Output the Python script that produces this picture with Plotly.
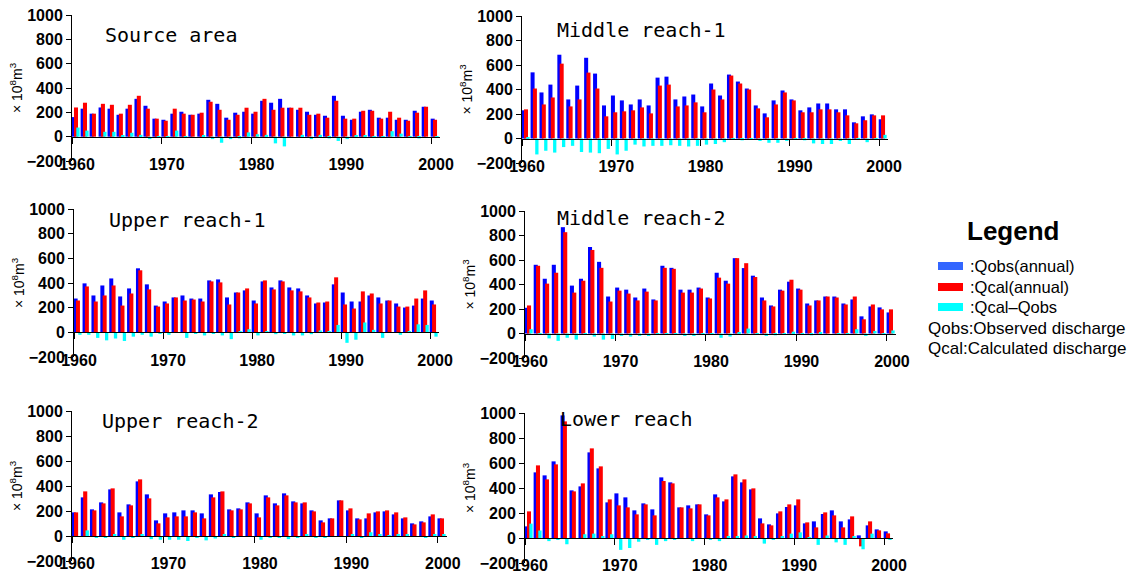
import plotly.graph_objects as go

years = list(range(1960, 2001))

panel_names = ["Source area", "Middle reach-1", "Upper reach-1",
               "Middle reach-2", "Upper reach-2", "Lower reach"]

# ---- data (x10^8 m3) ----
src_obs = [161, 230, 189, 240, 230, 180, 230, 311, 254, 148, 139, 189, 205, 180, 189, 303, 270, 156, 197, 205,
           189, 295, 279, 311, 238, 221, 205, 180, 172, 336, 172, 139, 205, 221, 156, 156, 139, 139, 213, 246, 148]
src_cal = [240, 279, 189, 270, 262, 189, 262, 336, 230, 148, 131, 230, 189, 180, 197, 287, 221, 139, 180, 238,
           205, 311, 221, 238, 238, 238, 180, 189, 156, 295, 148, 148, 213, 213, 148, 205, 156, 131, 197, 246, 139]
src_dif = [75, 50, 0, 40, 40, 10, 32, 15, -20, -5, -10, 50, -10, 0, 10, -20, -50, -20, -15, 35,
           20, 15, -55, -80, 0, 15, -20, 15, -15, -35, -20, 10, 10, -10, -10, 45, 25, -10, -15, 0, -10]

mid1_obs = [230, 540, 376, 440, 684, 319, 432, 659, 530, 270, 351, 311, 278, 319, 270, 497, 505, 319, 343, 359,
            262, 449, 351, 522, 465, 408, 270, 205, 311, 392, 319, 230, 254, 286, 286, 238, 238, 132, 181, 197, 157]
mid1_cal = [238, 408, 278, 335, 611, 262, 319, 538, 408, 181, 214, 222, 230, 254, 205, 432, 440, 262, 270, 295,
            214, 400, 319, 514, 449, 400, 246, 173, 278, 376, 311, 214, 214, 238, 238, 214, 189, 124, 149, 189, 189]
mid1_dif = [10, -130, -100, -115, -70, -60, -110, -115, -120, -85, -130, -100, -50, -65, -60, -60, -55, -60, -65, -60,
            -50, -45, -30, -10, -15, -10, -20, -35, -35, -20, -10, -15, -40, -45, -45, -20, -45, -10, -30, -10, 30]

up1_obs = [274, 397, 299, 380, 437, 291, 356, 519, 389, 217, 250, 283, 299, 274, 274, 421, 429, 283, 323, 340,
           258, 413, 364, 421, 364, 356, 299, 234, 242, 389, 323, 250, 250, 299, 283, 258, 234, 201, 217, 274, 258]
up1_cal = [258, 372, 250, 299, 380, 217, 315, 503, 348, 209, 234, 283, 258, 266, 250, 413, 405, 226, 323, 356,
           234, 421, 348, 413, 340, 332, 283, 242, 250, 446, 226, 193, 332, 315, 234, 258, 209, 209, 274, 340, 226]
up1_dif = [-20, -20, -45, -65, -50, -70, -35, -20, -35, -10, -20, 0, -45, -10, -25, -10, -25, -55, 10, 25,
           -25, 10, -15, -10, -25, -25, -15, 15, 10, 60, -85, -60, 80, 20, -45, 0, -20, 10, 65, 60, -35]

mid2_obs = [210, 561, 447, 561, 868, 391, 447, 706, 585, 302, 375, 358, 294, 367, 278, 553, 536, 358, 358, 375,
            294, 496, 431, 615, 534, 472, 294, 229, 358, 423, 367, 245, 270, 302, 302, 245, 278, 140, 221, 213, 172]
mid2_cal = [229, 553, 407, 496, 827, 334, 431, 682, 536, 261, 350, 326, 270, 342, 270, 536, 528, 334, 334, 367,
            286, 456, 407, 615, 574, 461, 270, 221, 350, 439, 358, 229, 270, 302, 294, 237, 302, 116, 237, 197, 197]
mid2_dif = [35, -10, -40, -60, -35, -50, -10, -25, -50, -45, -20, -25, -20, -20, -5, -10, -10, -20, -20, -10,
            -10, -35, -25, 10, 40, -10, -20, -15, -10, 15, -10, -15, 10, 0, -10, -5, 35, -20, 20, -10, 25]

up2_obs = [189, 309, 213, 269, 373, 189, 253, 437, 333, 125, 181, 189, 205, 205, 181, 333, 352, 213, 221, 269,
           181, 325, 261, 341, 277, 261, 205, 125, 141, 285, 205, 141, 141, 189, 197, 173, 141, 101, 117, 157, 141]
up2_cal = [189, 357, 205, 261, 381, 157, 245, 453, 301, 101, 149, 157, 157, 189, 141, 309, 357, 205, 213, 261,
           149, 309, 245, 325, 269, 269, 197, 109, 141, 285, 221, 133, 181, 197, 205, 189, 149, 93, 109, 173, 141]
up2_dif = [0, 45, -10, -10, 15, -30, -10, 15, -25, -30, -30, -30, -40, -15, -35, -20, 10, -10, -5, -5,
           -30, -15, -15, -25, -10, 10, -10, -15, 0, 0, 15, -10, 30, 10, 5, 10, 10, -5, -10, 10, 10]

low_obs = [93, 525, 501, 613, 981, 381, 413, 685, 557, 285, 357, 325, 221, 277, 229, 485, 445, 245, 261, 269,
           189, 349, 293, 493, 445, 389, 157, 109, 197, 248, 261, 117, 133, 192, 221, 133, 149, 21, 101, 69, 53]
low_cal = [213, 581, 469, 589, 933, 373, 437, 717, 573, 309, 261, 245, 189, 269, 181, 456, 437, 245, 237, 269,
           181, 325, 309, 509, 469, 397, 117, 101, 213, 269, 309, 125, 85, 205, 181, 85, 173, -67, 133, 61, 37]
low_dif = [115, 60, -25, -15, -50, -5, 30, 35, 15, 30, -95, -80, -30, -10, -55, -25, -10, -5, -25, 0,
           -15, -25, 15, 15, 20, 10, -45, -10, 15, 35, 45, 5, -55, 20, -35, -55, 15, -90, 35, -5, -15]

series = [(src_obs, src_cal, src_dif), (mid1_obs, mid1_cal, mid1_dif),
          (up1_obs, up1_cal, up1_dif), (mid2_obs, mid2_cal, mid2_dif),
          (up2_obs, up2_cal, up2_dif), (low_obs, low_cal, low_dif)]

y_ticks = [-200, 0, 200, 400, 600, 800, 1000]
x_ticks = [1960, 1970, 1980, 1990, 2000]

# ---- layout geometry (pixels) ----
W, H = 1135, 573
# (x_left, x_right, y_top(1000), y_bottom(-200), title_x, title_y)
geom = [
    (72, 440, 15, 161, 103, 35),
    (522, 888, 16, 163, 555, 30),
    (74, 439, 209, 357, 107, 220),
    (525, 896, 211, 358, 555, 218),
    (72, 447, 411, 561, 100, 421),
    (525, 893, 413, 563, 558, 419),
]

BLUE, RED, CYAN = "#0000FF", "#FF0000", "#00FFFF"
tickfont = dict(family="Liberation Sans, Arial", size=16, color="black", weight="bold")

fig = go.Figure()
layout = dict(width=W, height=H, margin=dict(l=0, r=0, t=0, b=0, autoexpand=False),
              paper_bgcolor="white", plot_bgcolor="white",
              barmode="overlay", showlegend=False, annotations=[], shapes=[])

for i, ((obs, cal, dif), g) in enumerate(zip(series, geom)):
    n = "" if i == 0 else str(i + 1)
    xa, ya = "x" + n, "y" + n
    x0, x1, yt, yb, tx, ty = g
    fig.add_trace(go.Bar(x=years, y=obs, xaxis=xa, yaxis=ya, marker_color=BLUE,
                         marker_line_width=0, offset=-0.04, width=0.45, name="Qobs"))
    fig.add_trace(go.Bar(x=years, y=cal, xaxis=xa, yaxis=ya, marker_color=RED,
                         marker_line_width=0, offset=0.22, width=0.45, name="Qcal"))
    fig.add_trace(go.Bar(x=years, y=dif, xaxis=xa, yaxis=ya, marker_color=CYAN,
                         marker_line_width=0, offset=0.48, width=0.37, name="Qcal-Qobs"))
    zero_px = yb - (yb - yt) * 200 / 1200
    xpos = 1 - zero_px / H
    layout["xaxis" + n] = dict(domain=[x0 / W, x1 / W], range=[1960, 2001],
                               anchor="free", position=xpos, automargin=False,
                               tickvals=x_ticks, ticks="outside", ticklen=6, tickcolor="black",
                               showline=True, linecolor="black", linewidth=1,
                               showgrid=False, zeroline=False, tickfont=tickfont,
                               ticklabelstandoff=7, ticklabelshift=5)
    layout["yaxis" + n] = dict(domain=[1 - yb / H, 1 - yt / H], range=[-200, 1000],
                               anchor=xa, tickvals=y_ticks, ticks="outside", ticklen=5,
                               automargin=False,
                               tickcolor="black", showline=True, linecolor="black",
                               linewidth=1, showgrid=False, zeroline=False, tickfont=tickfont,
                               title=dict(text="× 10<sup>8</sup>m<sup>3</sup>",
                                          font=dict(family="Liberation Sans, Arial", size=14,
                                                    color="black"),
                                          standoff=0))
    # overlay axes providing the inner half of the crossing tick marks
    k = 7 + i
    layout["xaxis%d" % k] = dict(overlaying=xa, domain=[x0 / W, x1 / W], range=[1960, 2001],
                                 anchor="free", position=xpos, automargin=False,
                                 tickvals=x_ticks, ticks="inside", ticklen=5, tickcolor="black",
                                 showticklabels=False, showline=False, showgrid=False,
                                 zeroline=False)
    layout["yaxis%d" % k] = dict(overlaying=ya, range=[-200, 1000], anchor=xa,
                                 tickvals=y_ticks, ticks="inside", ticklen=5, tickcolor="black",
                                 showticklabels=False, showline=False, showgrid=False,
                                 zeroline=False, automargin=False)
    layout["annotations"].append(dict(text=panel_names[i], xref="paper", yref="paper",
                                      x=tx / W, y=1 - ty / H, xanchor="left", yanchor="middle",
                                      showarrow=False,
                                      font=dict(family="DejaVu Sans Mono", size=20, color="black")))

# ---- legend (drawn manually) ----
ann = layout["annotations"]
ann.append(dict(text="<b>Legend</b>", xref="paper", yref="paper", x=1013 / W, y=1 - 231 / H,
                xanchor="center", yanchor="middle", showarrow=False,
                font=dict(family="Liberation Sans, Arial", size=26, color="black")))
leg_items = [(":Qobs(annual)", "#3366FF", 266), (":Qcal(annual)", "#FF0000", 287),
             (":Qcal–Qobs", "#00FFFF", 307)]
for txt, col, yy in leg_items:
    layout["shapes"].append(dict(type="rect", xref="paper", yref="paper",
                                 x0=938 / W, x1=963 / W, y0=1 - (yy + 4) / H, y1=1 - (yy - 4) / H,
                                 fillcolor=col, line=dict(width=0)))
    ann.append(dict(text=txt, xref="paper", yref="paper", x=968 / W, y=1 - yy / H,
                    xanchor="left", yanchor="middle", showarrow=False,
                    font=dict(family="Liberation Sans, Arial", size=16.5, color="black")))
for txt, yy in [("Qobs:Observed discharge", 328), ("Qcal:Calculated discharge", 348)]:
    ann.append(dict(text=txt, xref="paper", yref="paper", x=926 / W, y=1 - yy / H,
                    xanchor="left", yanchor="middle", showarrow=False,
                    font=dict(family="Liberation Sans, Arial", size=17, color="black")))

fig.update_layout(**layout)
fig.write_html("out.html")
